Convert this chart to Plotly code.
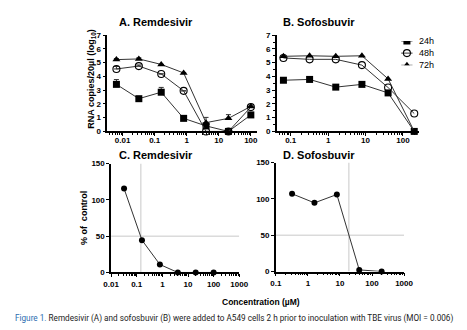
import plotly.graph_objects as go

# ---- data -------------------------------------------------------------
# Remdesivir: 5-fold dilutions (µM)
rem_conc = [0.0064, 0.032, 0.16, 0.8, 4, 20, 100]
rem_24h = [3.42, 2.38, 2.85, 0.95, 0.40, 0.0, 1.20]
rem_48h = [4.54, 4.75, 4.18, 2.95, 0.0, 0.0, 1.77]
rem_72h = [5.22, 5.27, 4.87, 4.25, 0.64, 0.95, 1.82]
rem_24h_err = [0.35, 0.0, 0.35, 0.18, 0.0, 0.0, 0.0]
rem_48h_err = [0.18, 0.08, 0.0, 0.0, 0.0, 0.0, 0.0]
rem_72h_err = [0.08, 0.08, 0.0, 0.0, 0.38, 0.27, 0.0]

# Sofosbuvir (µM)
sof_conc = [0.064, 0.32, 1.6, 8, 40, 200]
sof_24h = [3.72, 3.78, 3.22, 3.42, 2.80, 0.0]
sof_48h = [5.34, 5.24, 5.24, 4.82, 3.19, 1.30]
sof_72h = [5.46, 5.50, 5.46, 5.50, 3.82, 0.0]

# Percent of control
rem_pct_conc = [0.032, 0.16, 0.8, 4, 20, 100]
rem_pct = [115.5, 44.5, 11.0, 0.0, 0.0, 0.0]
rem_ic50 = 0.145
sof_pct_conc = [0.32, 1.6, 8, 40, 200]
sof_pct = [107.0, 94.5, 106.0, 2.2, 0.0]
sof_ic50 = 19.0

series_names = ["24h", "48h", "72h"]

# ---- layout helpers ---------------------------------------------------
W, H = 467, 330
FONT = "Liberation Sans, Arial, sans-serif"


def xd(a, b):
    return [a / W, b / W]


def yd(top, bottom):
    return [1 - bottom / H, 1 - top / H]


fig = go.Figure()

mk = {
    "24h": dict(symbol="square", size=7, color="black"),
    "48h": dict(symbol="circle-open", size=7, color="black", line=dict(width=1.1)),
    "72h": dict(symbol="triangle-up", size=7, color="black"),
}
line_style = dict(color="#333333", width=1)


def err(vals):
    return dict(type="data", array=vals, arrayminus=[0] * len(vals), symmetric=False,
                color="#333333", thickness=1, width=2.5)


for name, ys, e in zip(series_names, [rem_24h, rem_48h, rem_72h],
                       [rem_24h_err, rem_48h_err, rem_72h_err]):
    fig.add_trace(go.Scatter(x=rem_conc, y=ys, mode="lines+markers", name=name,
                             marker=mk[name], line=line_style, error_y=err(e),
                             xaxis="x", yaxis="y", showlegend=False, cliponaxis=False))

for name, ys in zip(series_names, [sof_24h, sof_48h, sof_72h]):
    fig.add_trace(go.Scatter(x=sof_conc, y=ys, mode="lines+markers", name=name,
                             marker=mk[name], line=line_style,
                             xaxis="x2", yaxis="y2", showlegend=False, cliponaxis=False))

fig.add_trace(go.Scatter(x=rem_pct_conc, y=rem_pct, mode="lines+markers",
                         marker=dict(symbol="circle", size=6, color="black"),
                         line=line_style, xaxis="x3", yaxis="y3",
                         showlegend=False, cliponaxis=False))
fig.add_trace(go.Scatter(x=sof_pct_conc, y=sof_pct, mode="lines+markers",
                         marker=dict(symbol="circle", size=6, color="black"),
                         line=line_style, xaxis="x4", yaxis="y4",
                         showlegend=False, cliponaxis=False))

# legend keys: short line with the series marker, drawn on a hidden axis pair
legend_rows = [0, 1, 2]
for name, row in zip(series_names, legend_rows):
    fig.add_trace(go.Scatter(x=[0, 1], y=[row, row], mode="lines", line=line_style,
                             xaxis="x5", yaxis="y5", showlegend=False, hoverinfo="skip"))
    fig.add_trace(go.Scatter(x=[0.5], y=[row], mode="markers", marker=mk[name],
                             xaxis="x5", yaxis="y5", showlegend=False, hoverinfo="skip"))

# reference lines (50 % and IC50)
grey = dict(color="#c8c8c8", width=1)
shapes = [
    dict(type="line", xref="x3", yref="y3", x0=rem_ic50, x1=rem_ic50, y0=0, y1=150, line=grey, layer="below"),
    dict(type="line", xref="x3", yref="y3", x0=0.01, x1=1000, y0=50, y1=50, line=grey, layer="below"),
    dict(type="line", xref="x4", yref="y4", x0=sof_ic50, x1=sof_ic50, y0=0, y1=150, line=grey, layer="below"),
    dict(type="line", xref="x4", yref="y4", x0=0.1, x1=1000, y0=50, y1=50, line=grey, layer="below"),
]

tickfont = dict(family=FONT, size=8, color="black", weight="bold")


def minor_vals(lo, hi):
    out = []
    for d in range(lo, hi):
        for m in range(2, 10):
            out.append(m * 10 ** d)
    return out


def logx(domain, rng, tickvals, minor, standoff=0):
    return dict(type="log", domain=domain, range=rng, tickvals=tickvals,
                ticktext=[f"{v:g}" for v in tickvals], showgrid=False, zeroline=False,
                showline=True, linecolor="black", linewidth=1.5, ticks="outside",
                ticklen=3, tickwidth=1.2, tickcolor="black", tickfont=tickfont,
                ticklabelstandoff=standoff,
                minor=dict(tickvals=minor, ticks="outside", ticklen=2,
                           tickwidth=1, tickcolor="black", showgrid=False))


def liny(domain, rng, dtick, anchor, minor_dtick=None):
    ax = dict(domain=domain, range=rng, dtick=dtick, showgrid=False, zeroline=False,
              showline=True, linecolor="black", linewidth=1.5, ticks="outside",
              ticklen=3, tickwidth=1.2, tickcolor="black", tickfont=tickfont,
              anchor=anchor)
    if minor_dtick:
        ax["minor"] = dict(dtick=minor_dtick, ticks="outside", ticklen=2,
                           tickwidth=1, tickcolor="black", showgrid=False)
    return ax


hidden = dict(visible=False, showgrid=False, zeroline=False)

fig.update_layout(
    width=W, height=H, margin=dict(l=0, r=0, t=0, b=0),
    paper_bgcolor="white", plot_bgcolor="white",
    font=dict(family=FONT, color="black"),
    showlegend=False,
    xaxis=dict(**logx(xd(103, 258), [-2.48, 2.18], [0.01, 0.1, 1, 10, 100],
                      minor_vals(-3, 3), -3), anchor="y"),
    yaxis=liny(yd(32, 131), [0, 7], 1, "x"),
    xaxis2=dict(**logx(xd(279, 427), [-1.37, 2.44], [0.1, 1, 10, 100],
                       minor_vals(-2, 3), -3), anchor="y2"),
    yaxis2=liny(yd(32, 131), [0, 7], 1, "x2", 0.5),
    xaxis3=dict(**logx(xd(107, 240), [-2, 3], [0.01, 0.1, 1, 10, 100, 1000],
                       minor_vals(-2, 3)), anchor="y3"),
    yaxis3=liny(yd(164, 276), [0, 150], 50, "x3"),
    xaxis4=dict(**logx(xd(278, 411), [-1, 3], [0.1, 1, 10, 100, 1000],
                       minor_vals(-1, 3)), anchor="y4"),
    yaxis4=liny(yd(163, 275), [0, 150], 50, "x4"),
    xaxis5=dict(domain=xd(408, 420), range=[0, 1], anchor="y5", **hidden),
    yaxis5=dict(domain=yd(38, 63), range=[2, 0], anchor="x5", **hidden),
    shapes=shapes,
)

title_font = dict(family=FONT, size=11, color="black", weight="bold")
axis_title_font = dict(family=FONT, size=9, color="black", weight="bold")
legend_font = dict(family=FONT, size=9, color="black")
annotations = [
    dict(text="A. Remdesivir", x=154 / W, y=1 - 18 / H, font=title_font),
    dict(text="B. Sofosbuvir", x=323 / W, y=1 - 18 / H, font=title_font),
    dict(text="C. Remdesivir", x=154 / W, y=1 - 155 / H, font=title_font),
    dict(text="D. Sofosbuvir", x=323 / W, y=1 - 155 / H, font=title_font),
    dict(text="RNA copies/20µl (log<sub>10</sub>)", x=87 / W, y=1 - 77 / H,
         textangle=-90, font=axis_title_font),
    dict(text="% of  control", x=79 / W, y=1 - 220 / H, textangle=-90, font=axis_title_font),
    dict(text="Concentration (µM)", x=263 / W, y=1 - 306 / H,
         font=dict(family=FONT, size=8.5, color="black", weight="bold")),
    dict(text="<span style='color:#2b6cb0'>Figure 1.</span> Remdesivir (A) and sofosbuvir (B) "
              "were added to A549 cells 2 h prior to inoculation with TBE virus (MOI = 0.006)",
         x=235 / W, y=1 - 323 / H,
         font=dict(family="Roboto, sans-serif", size=8.2, color="#222222")),
]
for a in annotations:
    a.update(xref="paper", yref="paper", showarrow=False, xanchor="center", yanchor="middle")
for name, row in zip(series_names, legend_rows):
    annotations.append(dict(text=name, xref="x5", yref="y5", x=1, y=row, xshift=4,
                            xanchor="left", yanchor="middle", showarrow=False, font=legend_font))
fig.update_layout(annotations=annotations)

fig.write_html("out.html")
